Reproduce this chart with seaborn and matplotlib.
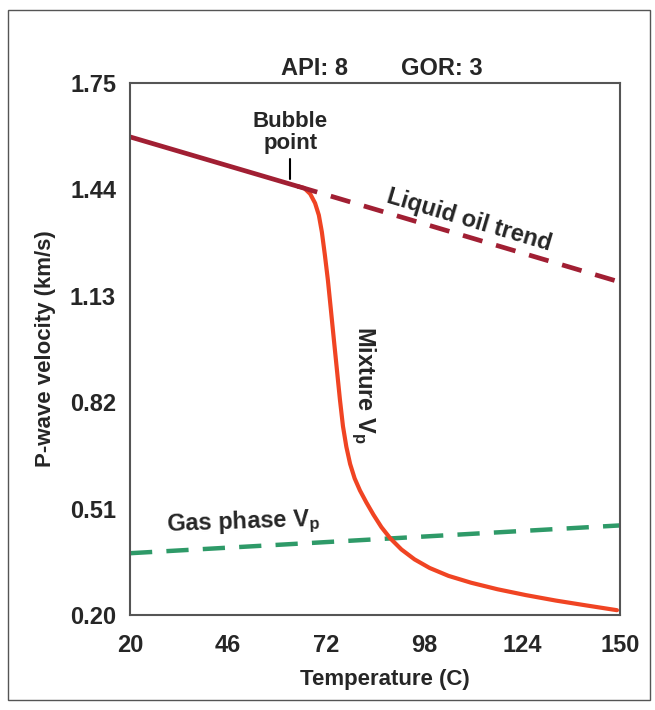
import matplotlib
matplotlib.use("Agg")
import matplotlib.pyplot as plt
import numpy as np
import pandas as pd
import seaborn as sns
from matplotlib.patches import Rectangle

# values
liquid_temp = [20, 64.5, 150]
liquid_vp = [1.593, 1.449, 1.17]

mixture_temp = [64.5, 66.2, 67.8, 69.1, 70.1, 70.9, 71.7, 72.5, 73.3, 74.1,
                74.9, 75.7, 76.5, 77.4, 78.4, 79.6, 81.0, 82.7, 84.6, 86.7,
                89.0, 92.0, 95.5, 99.5, 104.5, 110.5, 117.5, 125.0, 133.0,
                141.0, 149.2]
mixture_vp = [1.449, 1.444, 1.427, 1.400, 1.365, 1.316, 1.249, 1.176, 1.089, 1.001,
              0.914, 0.827, 0.750, 0.690, 0.640, 0.598, 0.563, 0.528, 0.492, 0.456,
              0.424, 0.391, 0.362, 0.337, 0.314, 0.294, 0.275, 0.258, 0.242,
              0.228, 0.214]

gas_temp = [20, 150]
gas_vp = [0.380, 0.461]

x_ticks = [20, 46, 72, 98, 124, 150]
y_ticks = [0.20, 0.51, 0.82, 1.13, 1.44, 1.75]

bubble_temp = 64.5
bubble_vp = 1.449

sns.set_style("white")
plt.rcParams["font.family"] = ["Liberation Sans", "DejaVu Sans"]
plt.rcParams["font.weight"] = "bold"
plt.rcParams["mathtext.fontset"] = "custom"
plt.rcParams["mathtext.rm"] = "Liberation Sans:bold"
plt.rcParams["mathtext.it"] = "Liberation Sans:bold"

fig = plt.figure(figsize=(6.55, 7.10), dpi=100)
ax = fig.add_axes([130 / 655, 1 - 615 / 710, 490 / 655, 532 / 710])

fig.patches.append(Rectangle((8 / 655, 10 / 710), 642 / 655, 690 / 710,
                             transform=fig.transFigure, fill=False,
                             edgecolor="#555555", linewidth=1.0))

liq = pd.DataFrame({"temp": liquid_temp, "vp": liquid_vp})
mix = pd.DataFrame({"temp": mixture_temp, "vp": mixture_vp})
gas = pd.DataFrame({"temp": gas_temp, "vp": gas_vp})

sns.lineplot(gas, x="temp", y="vp", ax=ax, color="#2e9a68", linewidth=3.2,
             sort=False)
ax.lines[-1].set_dashes((5.0, 3.2))
sns.lineplot(mix, x="temp", y="vp", ax=ax, color="#f04423", linewidth=3.0,
             sort=False)
ax.lines[-1].set_solid_joinstyle("round")
sns.lineplot(liq.iloc[1:], x="temp", y="vp", ax=ax, color="#a11f33",
             linewidth=3.4, sort=False)
ax.lines[-1].set_dashes((4.3, 3.0))
sns.lineplot(liq.iloc[:2], x="temp", y="vp", ax=ax, color="#a11f33",
             linewidth=3.4, sort=False)

# bubble point marker
ax.plot([bubble_temp - 2.0, bubble_temp - 2.0], [bubble_vp + 0.02, bubble_vp + 0.08],
        color="black", linewidth=1.5)
ax.text(bubble_temp - 2.0, bubble_vp + 0.095, "Bubble\npoint", ha="center", va="bottom",
        fontsize=16, fontweight="bold", linespacing=1.05)

ax.text(110.0, 1.35, "Liquid oil trend", ha="center", va="center", rotation=-16.5,
        fontsize=17, fontweight="bold")
ax.text(82.0, 0.87, "Mixture V$_p$", ha="center", va="center", rotation=-90,
        fontsize=17, fontweight="bold")
ax.text(50.0, 0.468, "Gas phase V$_p$", ha="center", va="center", rotation=2,
        fontsize=17, fontweight="bold")

ax.set_xlim(20, 150)
ax.set_ylim(0.20, 1.75)
ax.set_xticks(x_ticks)
ax.set_yticks(y_ticks)
ax.set_yticklabels([f"{v:.2f}" for v in y_ticks])
ax.tick_params(axis="y", length=6, width=2, color="#333333", labelsize=17, pad=4)
ax.tick_params(axis="x", length=0, labelsize=17, pad=14)
for lab in ax.get_xticklabels() + ax.get_yticklabels():
    lab.set_fontweight("bold")
for s in ax.spines.values():
    s.set_color("#555555")
    s.set_linewidth(1.5)

ax.set_xlabel("Temperature (C)", fontsize=16, fontweight="bold")
ax.xaxis.set_label_coords((385 - 130) / 490, -0.102)
ax.set_ylabel("P-wave velocity (km/s)", fontsize=16, fontweight="bold", labelpad=10)
ax.set_title("API: 8        GOR: 3", fontsize=17, fontweight="bold", pad=6,
             x=(382 - 130) / 490)

fig.savefig("out.png", dpi=100)
